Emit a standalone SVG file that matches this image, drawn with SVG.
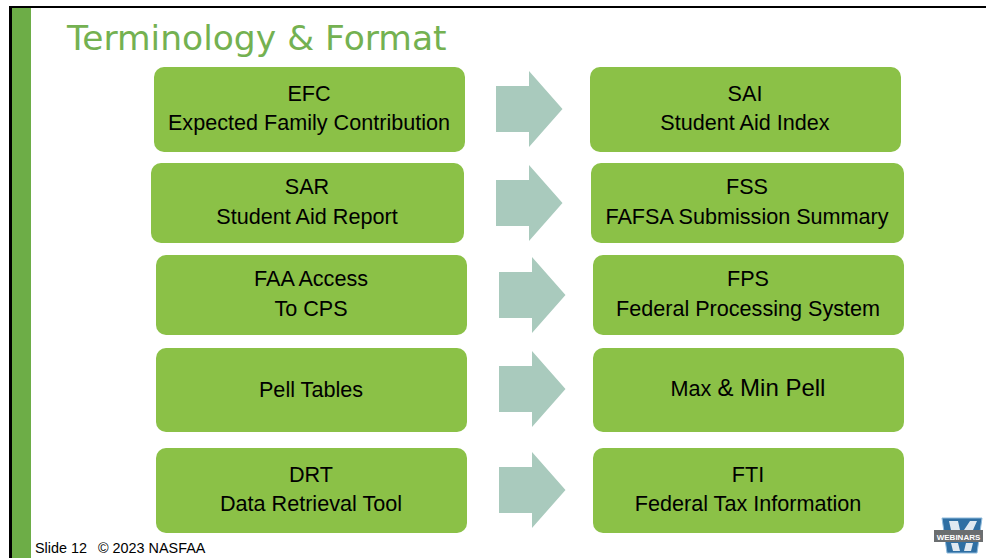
<svg xmlns="http://www.w3.org/2000/svg" width="986" height="558" viewBox="0 0 986 558">
<style>
text{font-family:"Liberation Sans",Arial,sans-serif;fill:#000;text-anchor:middle;font-size:21.600px}
.box{fill:#8bc147}
.arrow{fill:#a9cabd}
</style>
<defs>
<path id="arr" d="M0 15H33V0L66.500 38 33 76V61H0Z"/>
</defs>
<rect width="986" height="558" fill="#fff"/>
<rect x="9" y="6" width="977" height="552" fill="#000"/>
<rect x="12" y="8" width="974" height="550" fill="#fff"/>
<rect x="12" y="8" width="19" height="550" fill="#6dad47"/>
<text x="67" y="50" style="font-family:'DejaVu Sans',sans-serif;font-size:34.500px;fill:#74b151;text-anchor:start">Terminology &amp; Format</text>
<g id="connectors" class="arrow">
<use href="#arr" x="496" y="71"/>
<use href="#arr" x="496" y="165"/>
<use href="#arr" x="499" y="257"/>
<use href="#arr" x="499" y="351"/>
<use href="#arr" x="499" y="452"/>
</g>
<g id="node-efc"><rect class="box" x="154" y="67" width="311" height="85" rx="10"/><text x="309" y="101">EFC</text><text x="309" y="130">Expected Family Contribution</text></g>
<g id="node-sai"><rect class="box" x="590" y="67" width="311" height="85" rx="10"/><text x="745" y="101">SAI</text><text x="745" y="130">Student Aid Index</text></g>
<g id="node-sar"><rect class="box" x="151" y="163" width="313" height="80" rx="10"/><text x="307" y="194">SAR</text><text x="307" y="224">Student Aid Report</text></g>
<g id="node-fss"><rect class="box" x="591" y="163" width="313" height="80" rx="10"/><text x="747" y="194">FSS</text><text x="747" y="224">FAFSA Submission Summary</text></g>
<g id="node-faa"><rect class="box" x="156" y="255" width="311" height="80" rx="10"/><text x="311" y="286">FAA Access</text><text x="311" y="316">To CPS</text></g>
<g id="node-fps"><rect class="box" x="593" y="255" width="311" height="80" rx="10"/><text x="748" y="286">FPS</text><text x="748" y="316">Federal Processing System</text></g>
<g id="node-pell"><rect class="box" x="156" y="348" width="311" height="84" rx="10"/><text x="311" y="397">Pell Tables</text></g>
<g id="node-maxmin"><rect class="box" x="593" y="348" width="311" height="84" rx="10"/><text x="748" y="396">Max <tspan font-size="24">&amp; Min Pell</tspan></text></g>
<g id="node-drt"><rect class="box" x="156" y="448" width="311" height="85" rx="10"/><text x="311" y="482">DRT</text><text x="311" y="511">Data Retrieval Tool</text></g>
<g id="node-fti"><rect class="box" x="593" y="448" width="311" height="85" rx="10"/><text x="748" y="482">FTI</text><text x="748" y="511">Federal Tax Information</text></g>
<text y="553" style="font-size:14.400px;text-anchor:start"><tspan x="35">Slide 12</tspan><tspan x="98">© 2023 NASFAA</tspan></text>
<g id="logo">
<path d="M942 518H982L977 553H947Z" fill="#2f6fa3" stroke="#8fbbdc" stroke-width="1"/>
<path d="M949 521H958L960 530H951ZM970 521H977L973 530H964Z" fill="#fff" opacity=".85"/>
<path d="M951 543H958L960 551H953ZM966 543H973L971 551H964Z" fill="#fff" opacity=".85"/>
<rect x="934" y="530" width="49" height="12" fill="#6b6e70"/>
<text x="958.500" y="539.500" style="font-size:8px;font-weight:bold;fill:#fff">WEBINARS</text>
</g>
</svg>
